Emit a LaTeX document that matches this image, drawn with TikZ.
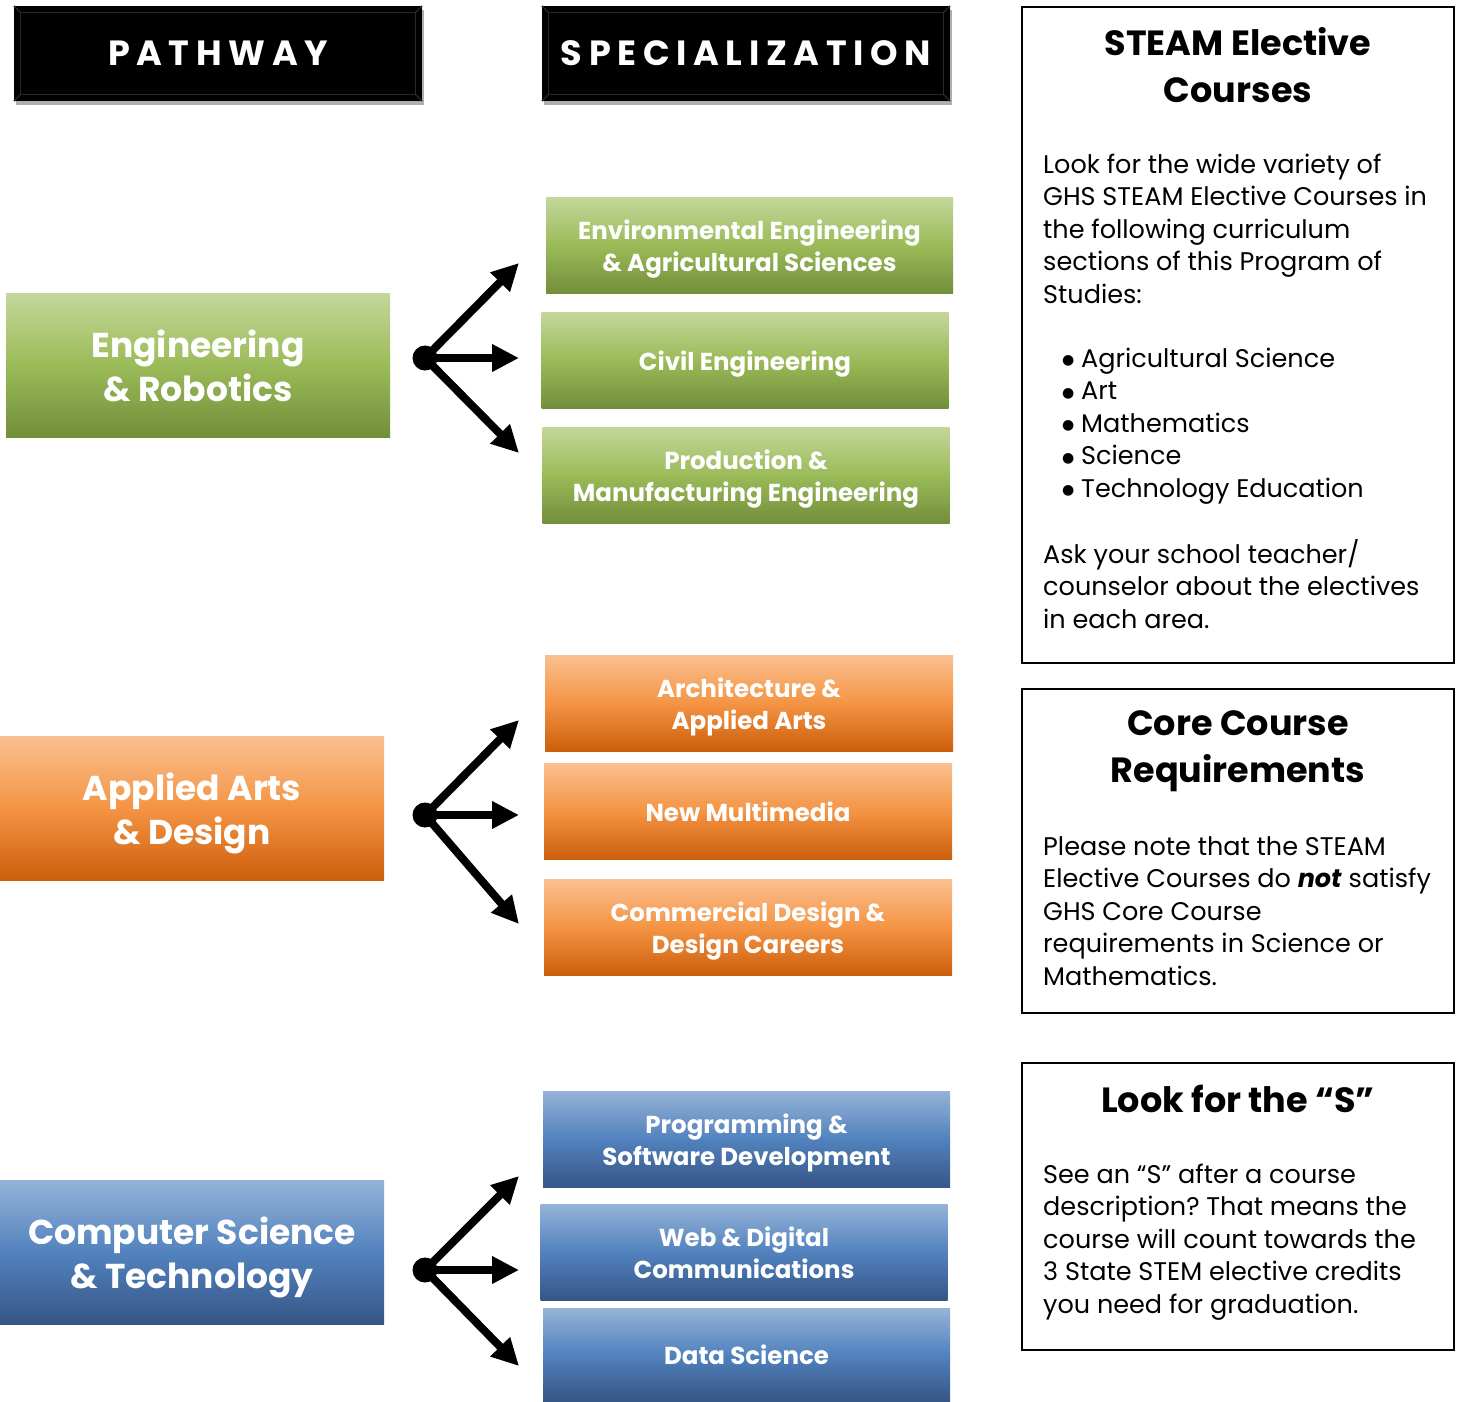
\documentclass[tikz,border=0pt]{standalone}
\usepackage{fontspec}
\setmainfont{Poppins}
\newfontfamily\hdrfont[LetterSpace=19]{Poppins}
\newfontfamily\djv{DejaVu Sans}
\usetikzlibrary{arrows.meta,shadows}
\definecolor{gtop}{RGB}{196,215,155}
\definecolor{gmid}{RGB}{155,187,89}
\definecolor{gbot}{RGB}{114,142,58}
\definecolor{otop}{RGB}{250,192,144}
\definecolor{omid}{RGB}{244,148,68}
\definecolor{obot}{RGB}{204,94,12}
\definecolor{btop}{RGB}{149,179,215}
\definecolor{bmid}{RGB}{82,130,190}
\definecolor{bbot}{RGB}{54,86,134}
\newcommand{\bstrut}{\rule{0pt}{28pt}}
\newcommand{\tstrut}{\rule{0pt}{36pt}}
\newcommand{\sa}{\rule{0pt}{30pt}}
\newcommand{\se}{\rule[-10pt]{0pt}{10pt}}
\newcommand{\pa}{\rule{0pt}{40pt}}
\newcommand{\pe}{\rule[-12pt]{0pt}{12pt}}
\newcommand{\blt}{\makebox[19pt][l]{\raisebox{2.5pt}{\djv\fontsize{14}{14}\selectfont ●}}}
\frenchspacing
\begin{document}
\begin{tikzpicture}[x=1pt,y=-1pt,
  hdr/.style={fill=black, inner sep=0pt, minimum width=408pt, minimum height=95pt,
    text=white, font=\hdrfont\bfseries\fontsize{35}{40}\selectfont,
    drop shadow={shadow xshift=2pt, shadow yshift=-4pt, opacity=0.45, fill=black!70}},
  bev/.style={draw=black!84, line width=1.2pt},
  cbox/.style={inner sep=0pt, minimum width=#1, text=white, align=center},
  gbox/.style={cbox=407pt, minimum height=96pt, top color=gtop, bottom color=gbot, middle color=gmid},
  obox/.style={cbox=408pt, minimum height=96pt, top color=otop, bottom color=obot, middle color=omid},
  bbox/.style={cbox=407pt, minimum height=96pt, top color=btop, bottom color=bbot, middle color=bmid},
  spec/.style={font=\bfseries\fontsize{24.5}{32}\selectfont},
  path/.style={minimum width=384pt, minimum height=144pt, font=\bfseries\fontsize{34.5}{44}\selectfont},
  dot/.style={circle, fill=black, minimum size=25pt, inner sep=0pt},
  arr/.style={line width=8pt, -{Triangle[length=27pt,width=26pt]}},
  info/.style={draw=black, line width=2pt, inner sep=0pt, minimum width=432pt},
  ttl/.style={anchor=north, align=center, inner sep=0pt, font=\bfseries\fontsize{35}{47}\selectfont},
  body/.style={anchor=north west, align=left, inner sep=0pt, font=\fontsize{25.5}{32.5}\selectfont}]
\useasboundingbox (0,0) rectangle (1458,1401);

% headers
\node[hdr] (hpath) at (218,53.5) {PATHWAY};
\node[hdr] (hspec) at (746,53.5) {SPECIALIZATION};
\foreach \h in {hpath,hspec}{
  \draw[bev] ([shift={(7,7)}]\h.north west) rectangle ([shift={(-7,-7)}]\h.south east);
  \draw[bev] (\h.north west) -- ++(7,7);
  \draw[bev] (\h.north east) -- ++(-7,7);
  \draw[bev] (\h.south west) -- ++(7,-7);
  \draw[bev] (\h.south east) -- ++(-7,-7);
}

% green group
\node[gbox, path] (gp) at (198,365) {\pa Engineering\\\& Robotics\pe};
\node[gbox, spec] (g1) at (749.5,245) {\sa Environmental Engineering\\\& Agricultural Sciences\se};
\node[gbox, spec] (g2) at (745,360) {\sa Civil Engineering\se};
\node[gbox, spec] (g3) at (746,475) {\sa Production \&\\Manufacturing Engineering\se};
\node[dot] (gd) at (425,358) {};
\coordinate (gt1) at (519,263);
\coordinate (gt2) at (519,358);
\coordinate (gt3) at (519,453);
\draw[arr] (gd.center) -- (gt1);
\draw[arr] (gd.center) -- (gt2);
\draw[arr] (gd.center) -- (gt3);

% orange group
\node[obox, path] (op) at (192,808) {\pa Applied Arts\\\& Design\pe};
\node[obox, spec] (o1) at (749,703) {\sa Architecture \&\\Applied Arts\se};
\node[obox, spec] (o2) at (748,811) {\sa New Multimedia\se};
\node[obox, spec] (o3) at (748,927) {\sa Commercial Design \&\\Design Careers\se};
\node[dot] (od) at (425,815) {};
\coordinate (ot1) at (519,720);
\coordinate (ot2) at (519,815);
\coordinate (ot3) at (519,924);
\draw[arr] (od.center) -- (ot1);
\draw[arr] (od.center) -- (ot2);
\draw[arr] (od.center) -- (ot3);

% blue group
\node[bbox, path] (bp) at (192,1252) {\pa Computer Science\\\& Technology\pe};
\node[bbox, spec] (b1) at (746.5,1139) {\sa Programming \&\\Software Development\se};
\node[bbox, spec] (b2) at (744,1252) {\sa Web \& Digital\\Communications\se};
\node[bbox, spec, minimum height=93pt] (b3) at (746.5,1354.5) {\sa Data Science\se};
\node[dot] (bd) at (425,1270) {};
\coordinate (bt1) at (519,1176);
\coordinate (bt2) at (519,1270);
\coordinate (bt3) at (519,1366);
\draw[arr] (bd.center) -- (bt1);
\draw[arr] (bd.center) -- (bt2);
\draw[arr] (bd.center) -- (bt3);

% info box 1
\node[info, minimum height=656pt] (i1) at (1238,335) {};
\node[ttl] (i1t) at (1238,55-36) {\tstrut STEAM Elective\\Courses};
\node[body] (i1a) at (1043,173-28) {\bstrut Look for the wide variety of\\GHS STEAM Elective Courses in\\the following curriculum\\sections of this Program of\\Studies:};
\node[body] (i1b) at (1062,367-28) {\bstrut \blt Agricultural Science\\\blt Art\\\blt Mathematics\\\blt Science\\\blt Technology Education};
\node[body] (i1c) at (1043,563-28) {\bstrut Ask your school teacher/\\counselor about the electives\\in each area.};

% info box 2
\node[info, minimum height=324pt] (i2) at (1238,851) {};
\node[ttl] (i2t) at (1238,735-36) {\tstrut Core Course\\Requirements};
\node[body] (i2a) at (1043,855-28) {\bstrut Please note that the STEAM\\Elective Courses do \textbf{\itshape not} satisfy\\GHS Core Course\\requirements in Science or\\Mathematics.};

% info box 3
\node[info, minimum height=287pt] (i3) at (1238,1206.5) {};
\node[ttl] (i3t) at (1238,1112-36) {\tstrut Look for the “S”};
\node[body] (i3a) at (1043,1183-28) {\bstrut See an “S” after a course\\description? That means the\\course will count towards the\\3 State STEM elective credits\\you need for graduation.};
\end{tikzpicture}
\end{document}
